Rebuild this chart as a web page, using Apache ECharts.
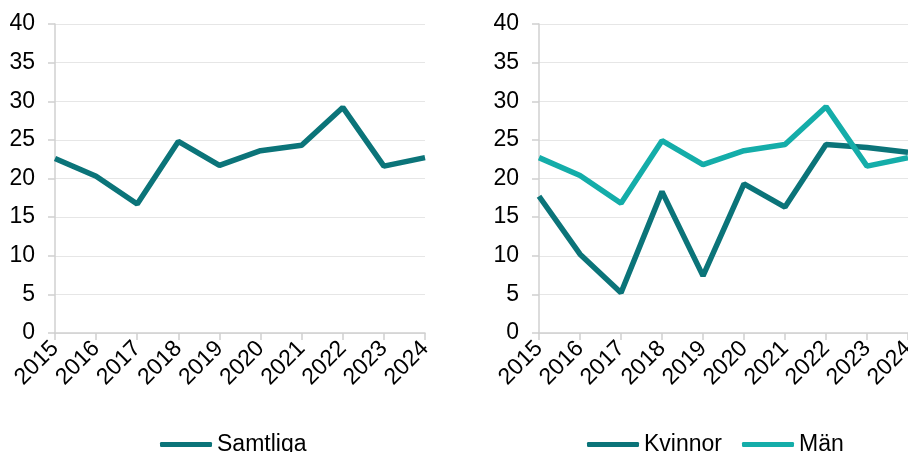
<!DOCTYPE html>
<html><head><meta charset="utf-8">
<script src="https://cdn.jsdelivr.net/npm/echarts@6/dist/echarts.min.js"></script>
<style>html,body{margin:0;padding:0;background:#fff}#c{width:908px;height:452px}</style>
</head><body><div id="c"></div>
<script>
var years = ['2015','2016','2017','2018','2019','2020','2021','2022','2023','2024'];
var samtliga = [22.6, 20.3, 16.7, 24.8, 21.7, 23.6, 24.3, 29.2, 21.6, 22.7];
var kvinnor = [17.7, 10.2, 5.2, 18.3, 7.4, 19.3, 16.3, 24.4, 24.0, 23.4];
var man = [22.7, 20.4, 16.8, 24.9, 21.8, 23.6, 24.4, 29.3, 21.6, 22.7];
var yTicks = [0, 5, 10, 15, 20, 25, 30, 35, 40];

var dark = '#0B7479', light = '#14ADA9';
var font = 'Liberation Sans, Arial, sans-serif';
var fs = 23;
function xAx(i){return {type:'category', gridIndex:i, data:years, boundaryGap:false,
  axisLine:{lineStyle:{color:'#d0d0d0', width:1.5}},
  axisTick:{show:true, length:7, lineStyle:{color:'#d0d0d0', width:1.5}},
  axisLabel:{rotate:45, fontSize:fs, color:'#000', fontFamily:font, margin:12, interval:0}};}
function yAx(i){return {type:'value', gridIndex:i, min:yTicks[0], max:yTicks[yTicks.length-1], interval:5,
  axisLine:{show:true, lineStyle:{color:'#d0d0d0', width:1.5}},
  axisTick:{show:true, length:7, lineStyle:{color:'#d0d0d0', width:1.5}},
  splitLine:{lineStyle:{color:'#e6e6e6', width:1}},
  axisLabel:{fontSize:fs, color:'#000', fontFamily:font, margin:20}};}
function ser(name, data, color, i){return {name:name, type:'line', data:data, xAxisIndex:i, yAxisIndex:i,
  symbol:'none', lineStyle:{color:color, width:5.5}, itemStyle:{color:color}, clip:false};}
var legText = {fontSize:fs, color:'#000', fontFamily:font};
var chart = echarts.init(document.getElementById('c'));
chart.setOption({
  animation:false,
  grid:[{left:55, right:483, top:24, bottom:119, outerBoundsMode:'none'},{left:539, right:0, top:24, bottom:119, outerBoundsMode:'none'}],
  xAxis:[xAx(0), xAx(1)],
  yAxis:[yAx(0), yAx(1)],
  legend:[
    {data:['Samtliga'], left:155, top:428, icon:'roundRect', itemWidth:52, itemHeight:5, itemGap:20, textStyle:legText},
    {data:['Kvinnor','Män'], left:582, top:428, icon:'roundRect', itemWidth:52, itemHeight:5, itemGap:20, textStyle:legText}
  ],
  series:[ser('Samtliga', samtliga, dark, 0), ser('Kvinnor', kvinnor, dark, 1), ser('Män', man, light, 1)]
});
</script></body></html>
